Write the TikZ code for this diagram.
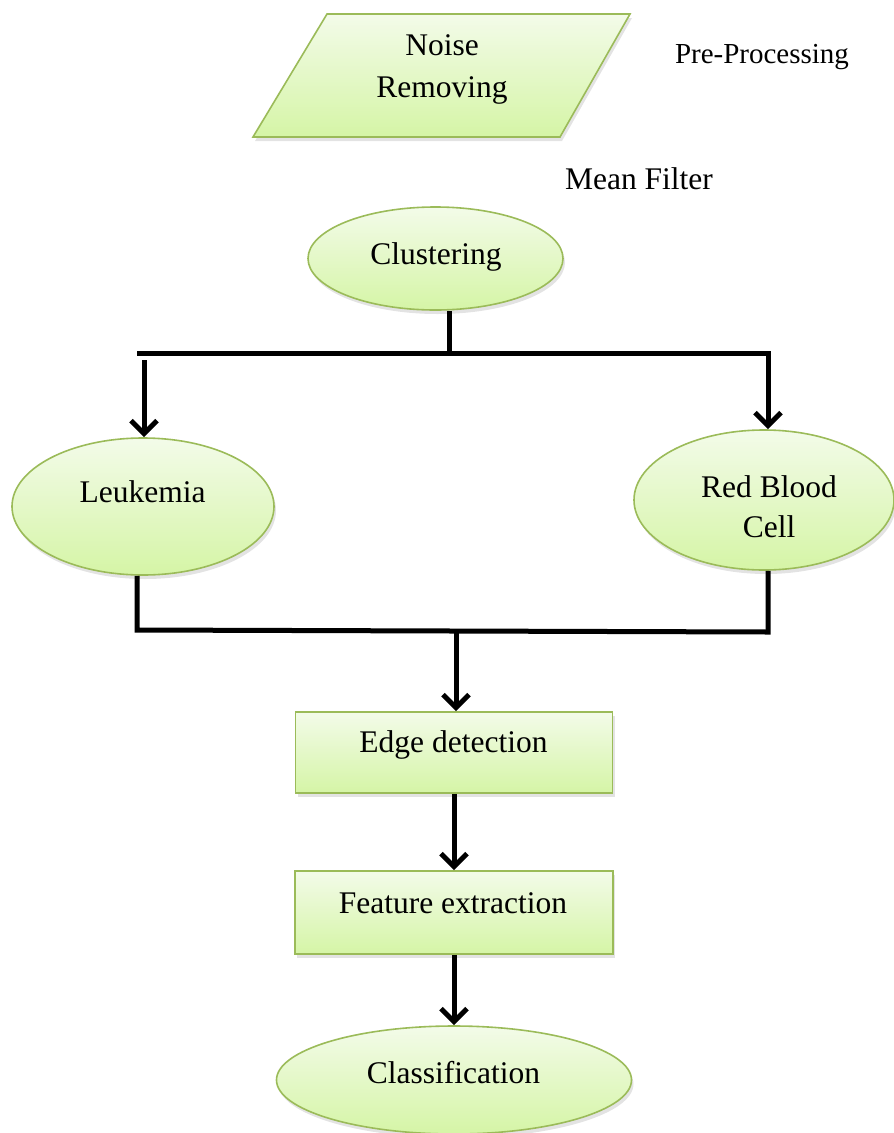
\documentclass[tikz,border=0pt]{standalone}
\usepackage{fontspec}
\setmainfont{Liberation Serif}
\usetikzlibrary{shapes.geometric,arrows.meta,shadows}
\definecolor{bord}{HTML}{9BBB59}
\definecolor{ftop}{HTML}{F3FBE9}
\definecolor{fbot}{HTML}{D5F5A6}
\tikzset{
 shapefill/.style={draw=bord, line width=1.6pt, top color=ftop, bottom color=fbot,
   drop shadow={opacity=0.22, shadow xshift=2pt, shadow yshift=-4pt}},
 ell/.style={shapefill, ellipse, inner sep=0pt},
 boxnode/.style={shapefill, rectangle, inner sep=0pt},
 txt/.style={font=\fontsize{31.5}{42}\selectfont, anchor=base, inner sep=0pt},
 smalltxt/.style={txt, font=\fontsize{29}{36}\selectfont},
 conn/.style={line width=5pt, line cap=butt, line join=miter},
 arr/.style={conn, -{Straight Barb[length=13pt,width=26pt,line width=5pt]}},
}
\begin{document}
\begin{tikzpicture}[x=1pt,y=-1pt]
\useasboundingbox (0,0) rectangle (894,1133);
% pre-processing parallelogram
\path[shapefill] (253,137) -- (327,14) -- (630,14) -- (560,137) -- cycle;
\node[txt] (tnoise) at (442,55) {Noise};
\node[txt] (tremov) at (442,97) {Removing};
\node[smalltxt] (tpre) at (762,63) {Pre-Processing};
\node[txt] (tmean) at (639,189) {Mean Filter};
% shapes
\node[ell, minimum width=255pt, minimum height=103pt] (clus) at (435.5,258.5) {};
\node[ell, minimum width=262pt, minimum height=137pt] (leuk) at (143,506.5) {};
\node[ell, minimum width=260pt, minimum height=140pt] (rbc) at (764,500) {};
\node[boxnode, minimum width=317pt, minimum height=81pt] (edge) at (454,752.5) {};
\node[boxnode, minimum width=318pt, minimum height=83pt] (feat) at (454,912.5) {};
\node[ell, minimum width=355pt, minimum height=108pt] (class) at (454,1080) {};
% texts
\node[txt] (tclus) at (436,264) {Clustering};
\node[txt] (tleuk) at (142.5,502) {Leukemia};
\node[txt] (trbc1) at (769,497) {Red Blood};
\node[txt] (trbc2) at (769,537) {Cell};
\node[txt] (tedge) at (453.5,752) {Edge detection};
\node[txt] (tfeat) at (453,913) {Feature extraction};
\node[txt] (tclass) at (453.5,1083) {Classification};
% connectors
\coordinate (cj) at (449,351);
\coordinate (hl) at (137,353);
\coordinate (hr) at (768,353);
\coordinate (al) at (144,360);
\draw[conn] (clus.south -| cj) -- (cj);
\draw[arr] (hl) -- (hr) -- (hr |- rbc.north);
\draw[arr] (al) -- (al |- leuk.north);
\coordinate (bl) at (137,630);
\coordinate (br) at (768,632);
\coordinate (bm) at (456,631);
\draw[conn] (leuk.south -| bl) -- (bl) -- (br) -- (rbc.south -| br);
\draw[arr] (bm) -- (bm |- edge.north);
\draw[arr] (edge) -- (feat);
\draw[arr] (feat) -- (class);
\end{tikzpicture}
\end{document}
